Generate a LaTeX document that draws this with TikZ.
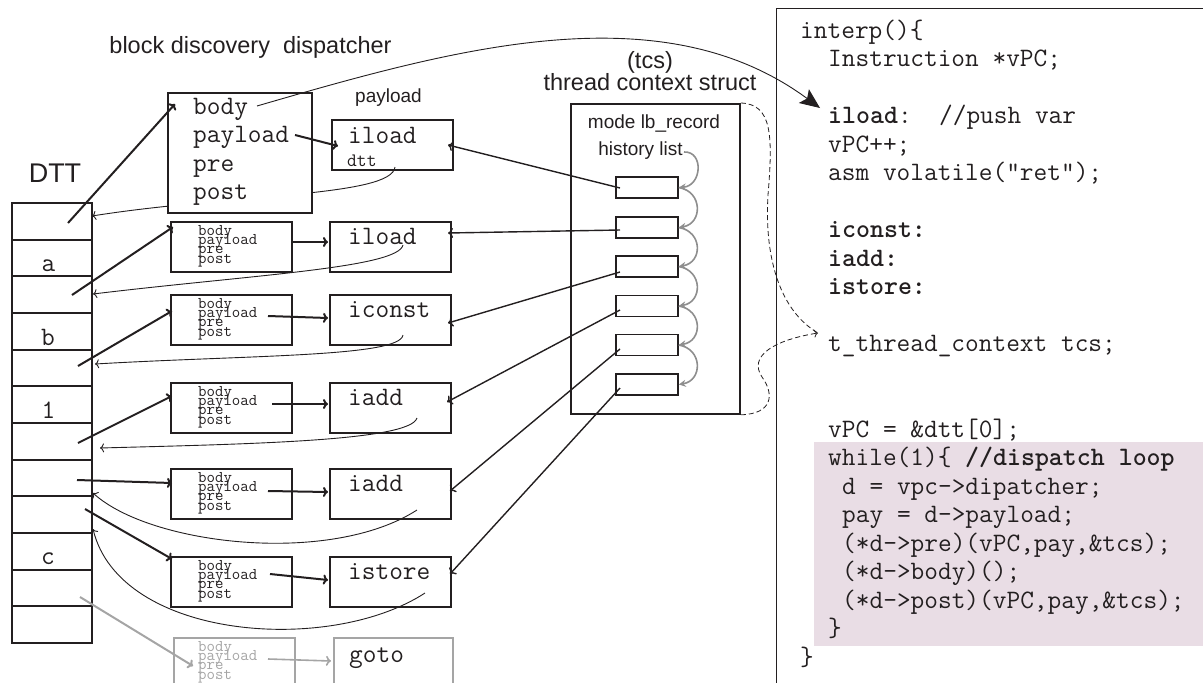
\documentclass[tikz,border=0pt]{standalone}
\usepackage{fontspec}
\setmainfont{Liberation Sans}
\usetikzlibrary{arrows.meta}
\definecolor{ink}{HTML}{231F20}
\definecolor{gry}{HTML}{A5A5A5}
\definecolor{arcg}{HTML}{8E8E8E}
\definecolor{pinkbg}{HTML}{E9DDE5}
\begin{document}
\begin{tikzpicture}[x=1pt,y=-1pt,
  every node/.style={inner sep=0pt, text=ink},
  codef/.style={font=\fontsize{26.6}{28.5}\selectfont\ttfamily, anchor=base west},
  cellf/.style={font=\fontsize{26.6}{28.5}\selectfont\ttfamily, anchor=base},
  lab/.style={font=\fontsize{23.5}{28}\selectfont, anchor=base},
  labs/.style={font=\fontsize{19}{23}\selectfont, anchor=base},
  smallt/.style={font=\fontsize{16.4}{10}\selectfont\ttfamily, anchor=base west},
  thickbox/.style={draw=ink, line width=1.8pt, anchor=north west, inner sep=0pt},
  hbox/.style={draw=ink, line width=1.6pt, minimum width=62pt, minimum height=21pt, inner sep=0pt},
  thk/.style={draw=ink, line width=2pt, -{To[length=5pt,width=10pt]}},
  thn/.style={draw=ink, line width=0.9pt, -{To[length=4pt,width=9pt]}},
  med/.style={draw=ink, line width=1.4pt, -{To[length=5pt,width=10pt]}},
  garc/.style={draw=arcg, line width=1.6pt, -{Stealth[length=7pt,width=7pt]}},
  dsh/.style={draw=ink, line width=0.8pt, dash pattern=on 5pt off 3pt},
]
\useasboundingbox (0,0) rectangle (1203,683);

% ---------------- code panel ----------------
\fill[pinkbg] (814,442) rectangle (1203,646);
\draw[ink, line width=1pt] (1203,8) -- (776,8) -- (776,683);
\node[codef] (c1) at (800,38) {interp()\{};
\node[codef] (c2) at (828,66.5) {Instruction *vPC;};
\node[codef] (c3) at (828,123.5) {\textbf{iload}:~~//push var};
\node[codef] (c4) at (828,152) {vPC++;};
\node[codef] (c5) at (828,180.5) {asm volatile("ret");};
\node[codef] (c6) at (828,237.5) {\textbf{iconst:}};
\node[codef] (c7) at (828,266) {\textbf{iadd:}};
\node[codef] (c8) at (828,294.5) {\textbf{istore:}};
\node[codef] (c9) at (828,351.5) {t\_thread\_context tcs;};
\node[codef] (c10) at (828,437) {vPC = \&dtt[0];};
\node[codef] (c11) at (828,465.5) {while(1)\{ \textbf{//dispatch loop}};
\node[codef] (c12) at (842,494) {d = vpc->dipatcher;};
\node[codef] (c13) at (842,522.5) {pay = d->payload;};
\node[codef] (c14) at (842,551) {(*d->pre)(vPC,pay,\&tcs);};
\node[codef] (c15) at (842,579.5) {(*d->body)();};
\node[codef] (c16) at (842,608) {(*d->post)(vPC,pay,\&tcs);};
\node[codef] (c17) at (828,636.5) {\}};
\node[codef] (c18) at (800,665) {\}};

% ---------------- labels ----------------
\node[lab] (title) at (250.5,53) {block discovery\ \ dispatcher};
\node[font=\fontsize{27}{30}\selectfont, anchor=base] (dttl) at (55,182) {DTT};
\node[labs] (payl) at (388.5,102) {payload};
\node[lab] (tcs1) at (650,68) {(tcs)};
\node[lab] (tcs2) at (650,90) {thread context struct};

% ---------------- DTT column ----------------
\foreach \i in {1,...,12}
  \node[draw=ink, line width=1.8pt, minimum width=80pt, minimum height=36.67pt, inner sep=0pt]
    (r\i) at (52,{203+(\i-0.5)*36.67}) {};
\node[cellf] (la) at (48.5,271) {a};
\node[cellf] (lb) at (48,345) {b};
\node[cellf] (l1) at (48.5,418) {1};
\node[cellf] (lc) at (48,564) {c};

% ---------------- first payload box ----------------
\node[thickbox, minimum width=121pt, minimum height=50pt] (p1) at (331,119) {};
\node[codef] (p1t) at (348,143) {iload};
\node[font=\fontsize{19}{20}\selectfont\ttfamily, anchor=base west] (p1d) at (347,166) {dtt};

% return curve of the first row (passes behind the dispatcher box)
\coordinate (ret1s) at (395,167);
\coordinate (ret1e) at (92,216);
\draw[thn] (ret1s) .. controls (392,197) and (230,194) .. (ret1e);

% ---------------- main dispatcher box ----------------
\node[thickbox, fill=white, minimum width=144pt, minimum height=120pt] (d1) at (167,92) {};
\node[codef] (d1b) at (193,114) {body};
\node[codef] (d1p) at (193,142.5) {payload};
\node[codef] (d1r) at (193,171) {pre};
\node[codef] (d1o) at (193,199.5) {post};

% ---------------- small dispatcher rows ----------------
\foreach \n/\t/\w in {2/221/iload,3/294/iconst,4/382/iadd,5/468/iadd,6/556/istore} {
  \node[thickbox, minimum width=121pt, minimum height=50pt] (d\n) at (170,\t) {};
  \node[smallt] (db\n) at (198,\t+14) {body};
  \node[smallt] (dp\n) at (198,\t+23.4) {payload};
  \node[smallt] (dr\n) at (198,\t+32.8) {pre};
  \node[smallt] (do\n) at (198,\t+42.2) {post};
  \node[thickbox, minimum width=121pt, minimum height=50pt] (p\n) at (329,\t) {};
  \node[codef] (pt\n) at (348,\t+23.5) {\w};
}
% grey row
\node[thickbox, draw=gry, minimum width=121pt, minimum height=60pt] (d7) at (173,637) {};
\node[smallt, text=gry] (db7) at (198,651) {body};
\node[smallt, text=gry] (dp7) at (198,660.4) {payload};
\node[smallt, text=gry] (dr7) at (198,669.8) {pre};
\node[smallt, text=gry] (do7) at (198,679.2) {post};
\node[thickbox, draw=gry, minimum width=119pt, minimum height=60pt] (p7) at (333,637) {};
\node[codef] (pt7) at (349,662) {goto};

% ---------------- thread context struct ----------------
\node[draw=ink, line width=1.8pt, anchor=north west, minimum width=169pt, minimum height=310pt] (tcs) at (570,103) {};
\node[labs] (mode) at (654,128) {mode lb\_record};
\node[labs] (hist) at (640.5,155) {history list};
\foreach \i/\y in {1/187.5,2/227.5,3/266.5,4/306,5/345,6/384.5}
  \node[hbox] (h\i) at (647,\y) {};

% history list chain
\coordinate (histend) at (684,152);
\draw[garc] (histend) .. controls (704,151) and (702,186) .. (h1.east);
\foreach \i/\j in {1/2,2/3,3/4,4/5,5/6}
  \draw[garc] (h\i.east) .. controls +(24,4) and +(24,-4) .. (h\j.east);

% dashed links to the tcs declaration
\coordinate (tcsdecl) at (818,333);
\draw[dsh] (tcs.north east) .. controls (772,104) and (773,135) .. (768,195)
  .. controls (764,262) and (782,312) .. (tcsdecl);
\draw[dsh, -{To[length=4pt,width=8pt]}] (tcs.south east) .. controls (772,414) and (775,395) .. (762,377)
  .. controls (748,356) and (774,340) .. (tcsdecl);

% ---------------- main dispatch pointer to code ----------------
\coordinate (bodyend) at (257,106);
\coordinate (codetip) at (820,108);
\draw[ink, line width=0.9pt, -{Stealth[length=20pt,width=17pt,inset=4pt]}]
  (bodyend) .. controls (450,50) and (660,-10) .. (codetip);

% ---------------- DTT -> dispatcher arrows ----------------
\coordinate (s1) at (68,223);   \coordinate (t1) at (175,104);
\coordinate (s3) at (72,295);   \coordinate (t3) at (173,227);
\coordinate (s5) at (78,366);   \coordinate (t5) at (172,311);
\coordinate (s7) at (78,443);   \coordinate (t7) at (172,396);
\coordinate (s8) at (77,480);   \coordinate (t8) at (172,483);
\coordinate (s9) at (85,509);   \coordinate (t9) at (172,559);
\coordinate (s11) at (80,597);  \coordinate (t11) at (193,666);
\draw[thk] (s1) -- (t1);
\draw[thk] (s3) -- (t3);
\draw[thk] (s5) -- (t5);
\draw[thk] (s7) -- (t7);
\draw[thk] (s8) -- (t8);
\draw[thk] (s9) -- (t9);
\draw[thk, draw=gry] (s11) -- (t11);

% ---------------- dispatcher -> payload arrows ----------------
\coordinate (q1s) at (295,135); \coordinate (q1e) at (338,146);
\coordinate (q2s) at (291,242); \coordinate (q2e) at (328,242);
\coordinate (q3s) at (268,316); \coordinate (q3e) at (328,318);
\coordinate (q4s) at (272,404); \coordinate (q4e) at (328,404);
\coordinate (q5s) at (268,491); \coordinate (q5e) at (328,492);
\coordinate (q6s) at (270,574); \coordinate (q6e) at (328,580);
\coordinate (q7s) at (268,659); \coordinate (q7e) at (331,661);
\draw[thk] (q1s) -- (q1e);
\draw[thk] (q2s) -- (q2e);
\draw[thk] (q3s) -- (q3e);
\draw[thk] (q4s) -- (q4e);
\draw[thk] (q5s) -- (q5e);
\draw[thk] (q6s) -- (q6e);
\draw[thk, draw=gry, line width=1.6pt] (q7s) -- (q7e);

% ---------------- payload -> DTT return curves ----------------
\coordinate (ret2s) at (403,245); \coordinate (ret2e) at (93,294);
\coordinate (ret3s) at (403,335); \coordinate (ret3e) at (95,364);
\coordinate (ret4s) at (417,418); \coordinate (ret4e) at (100,448);
\coordinate (ret5s) at (417,510); \coordinate (ret5e) at (93,493);
\coordinate (ret6s) at (425,593); \coordinate (ret6e) at (93,529);
\draw[thn] (ret2s) .. controls (398,268) and (250,275) .. (ret2e);
\draw[thn] (ret3s) .. controls (400,357) and (250,355) .. (ret3e);
\draw[thn] (ret4s) .. controls (410,441) and (250,444) .. (ret4e);
\draw[thn] (ret5s) .. controls (330,566) and (150,545) .. (ret5e);
\draw[thn] (ret6s) .. controls (330,655) and (120,640) .. (ret6e);

% ---------------- history records -> payload ----------------
\coordinate (u1s) at (620,188); \coordinate (u1e) at (448,145);
\coordinate (u2s) at (620,230); \coordinate (u2e) at (448,233);
\coordinate (u3s) at (620,272); \coordinate (u3e) at (448,323);
\coordinate (u4s) at (620,310); \coordinate (u4e) at (447,402);
\coordinate (u5s) at (620,349); \coordinate (u5e) at (450,491);
\coordinate (u6s) at (620,388); \coordinate (u6e) at (450,574);
\draw[med] (u1s) -- (u1e);
\draw[med] (u2s) -- (u2e);
\draw[med] (u3s) -- (u3e);
\draw[med] (u4s) -- (u4e);
\draw[med] (u5s) -- (u5e);
\draw[med] (u6s) -- (u6e);
\end{tikzpicture}
\end{document}
